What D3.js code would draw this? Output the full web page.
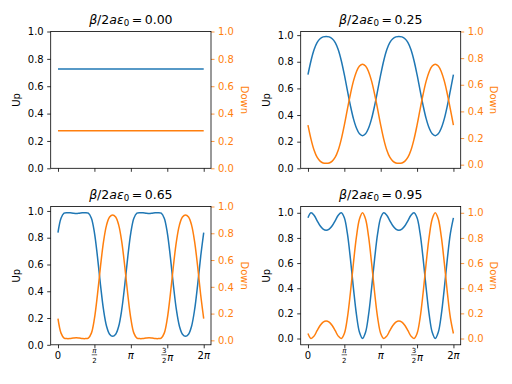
<!DOCTYPE html>
<html>
<head>
<meta charset="utf-8">
<script src="https://cdn.jsdelivr.net/npm/d3@7"></script>
<style>
	body { margin: 0; background: #fff; }
	svg { font-family: "DejaVu Sans", sans-serif; }
	.line { fill: none; stroke-width: 1.5; }
	.frame { fill: none; stroke: #000; stroke-width: 0.8; }
</style>
</head>
<body>
<svg id="chart" width="512" height="384"></svg>
<script>

// parameter shown in each panel title
var ratioLabels = ["0.00", "0.25", "0.65", "0.95"];

// sample grid: 0 .. 2pi in steps of pi/24 (49 points)
var theta = d3.range(0, 49).map(function(k) { return k * Math.PI / 24; });

// values, one per sample
var up000 = [0.725,0.725,0.725,0.725,0.725,0.725,0.725,0.725,0.725,0.725,0.725,0.725,0.725,0.725,0.725,0.725,0.725,0.725,0.725,0.725,0.725,0.725,0.725,0.725,0.725,0.725,0.725,0.725,0.725,0.725,0.725,0.725,0.725,0.725,0.725,0.725,0.725,0.725,0.725,0.725,0.725,0.725,0.725,0.725,0.725,0.725,0.725,0.725,0.725];
var down000 = [0.275,0.275,0.275,0.275,0.275,0.275,0.275,0.275,0.275,0.275,0.275,0.275,0.275,0.275,0.275,0.275,0.275,0.275,0.275,0.275,0.275,0.275,0.275,0.275,0.275,0.275,0.275,0.275,0.275,0.275,0.275,0.275,0.275,0.275,0.275,0.275,0.275,0.275,0.275,0.275,0.275,0.275,0.275,0.275,0.275,0.275,0.275,0.275,0.275];

var up025 = [0.703,0.808,0.890,0.944,0.973,0.987,0.990,0.987,0.973,0.944,0.890,0.808,0.703,0.585,0.471,0.373,0.302,0.259,0.245,0.259,0.302,0.373,0.471,0.585,0.703,0.808,0.890,0.944,0.973,0.987,0.990,0.987,0.973,0.944,0.890,0.808,0.703,0.585,0.471,0.373,0.302,0.259,0.245,0.259,0.302,0.373,0.471,0.585,0.703];
var down025 = [0.297,0.192,0.110,0.056,0.027,0.013,0.010,0.013,0.027,0.056,0.110,0.192,0.297,0.415,0.529,0.627,0.698,0.741,0.755,0.741,0.698,0.627,0.529,0.415,0.297,0.192,0.110,0.056,0.027,0.013,0.010,0.013,0.027,0.056,0.110,0.192,0.297,0.415,0.529,0.627,0.698,0.741,0.755,0.741,0.698,0.627,0.529,0.415,0.297];

var up065 = [0.838,0.946,0.983,0.987,0.986,0.983,0.981,0.983,0.986,0.987,0.983,0.946,0.838,0.659,0.448,0.262,0.139,0.079,0.063,0.079,0.139,0.262,0.448,0.659,0.838,0.946,0.983,0.987,0.986,0.983,0.981,0.983,0.986,0.987,0.983,0.946,0.838,0.659,0.448,0.262,0.139,0.079,0.063,0.079,0.139,0.262,0.448,0.659,0.838];
var down065 = [0.162,0.054,0.017,0.013,0.014,0.017,0.019,0.017,0.014,0.013,0.017,0.054,0.162,0.341,0.552,0.738,0.861,0.921,0.937,0.921,0.861,0.738,0.552,0.341,0.162,0.054,0.017,0.013,0.014,0.017,0.019,0.017,0.014,0.013,0.017,0.054,0.162,0.341,0.552,0.738,0.861,0.921,0.937,0.921,0.861,0.738,0.552,0.341,0.162];

var up095 = [0.960,1.000,0.981,0.938,0.897,0.870,0.861,0.870,0.897,0.938,0.981,1.000,0.960,0.836,0.636,0.401,0.190,0.049,0.000,0.049,0.190,0.401,0.636,0.836,0.960,1.000,0.981,0.938,0.897,0.870,0.861,0.870,0.897,0.938,0.981,1.000,0.960,0.836,0.636,0.401,0.190,0.049,0.000,0.049,0.190,0.401,0.636,0.836,0.960];
var down095 = [0.040,0.000,0.019,0.062,0.103,0.130,0.139,0.130,0.103,0.062,0.019,0.000,0.040,0.164,0.364,0.599,0.810,0.951,1.000,0.951,0.810,0.599,0.364,0.164,0.040,0.000,0.019,0.062,0.103,0.130,0.139,0.130,0.103,0.062,0.019,0.000,0.040,0.164,0.364,0.599,0.810,0.951,1.000,0.951,0.810,0.599,0.364,0.164,0.040];

// ticks
var xTickValues = [0, Math.PI / 2, Math.PI, 3 * Math.PI / 2, 2 * Math.PI];
var xTickLabels = ["0", "\u03C0/2", "\u03C0", "3/2\u03C0", "2\u03C0"];
var yTickValues = [0, 0.2, 0.4, 0.6, 0.8, 1.0];

var upColor = "#1f77b4",
	downColor = "#ff7f0e";

// axes boxes [left, right] and [top, bottom]
var cols = [[50.7, 211], [300.7, 460.7]],
	rows = [[31.5, 168.3], [206.5, 344.8]];

var svg = d3.select("#chart");

// matplotlib-like limits: autoscale with 5% margin, but always include 0..1
function yLimits(vals) {
	var lo = d3.min(vals), hi = d3.max(vals), pad = (hi - lo) * 0.05;
	return [Math.min(0, lo - pad), Math.max(1, hi + pad)];
}

// write a math string, pi in italics like mathtext
function mathText(t, str) {
	str.split("").forEach(function(c) {
		var s = t.append("tspan").text(c);
		if (c == "\u03C0") s.attr("font-style", "italic");
	});
	return t;
}

// x tick label, with stacked fraction for "a/b..."
function drawXLabel(g, xPos, yBase, label) {
	var parts = label.split("/");
	if (parts.length == 1) {
		mathText(g.append("text")
			.attr("x", xPos)
			.attr("y", yBase + 14.2)
			.attr("text-anchor", "middle")
			.attr("font-size", 10), label);
		return;
	}
	var num = parts[0], den = parts[1].charAt(0), rest = parts[1].slice(1);
	var lab = g.append("g");
	var numT = mathText(lab.append("text").attr("y", yBase + 7.8).attr("text-anchor", "middle")
		.attr("font-size", 7), num);
	var denT = mathText(lab.append("text").attr("y", yBase + 17.8).attr("text-anchor", "middle")
		.attr("font-size", 7), den);
	var fw = Math.max(numT.node().getComputedTextLength(), denT.node().getComputedTextLength()) + 1;
	lab.append("line")
		.attr("x1", -fw / 2).attr("x2", fw / 2)
		.attr("y1", yBase + 10).attr("y2", yBase + 10)
		.attr("stroke", "#000").attr("stroke-width", 0.6);
	var rw = 0;
	if (rest.length) {
		var restT = mathText(lab.append("text").attr("x", fw / 2 + 0.3).attr("y", yBase + 16)
			.attr("font-size", 10), rest);
		rw = restT.node().getComputedTextLength() + 0.3;
	}
	var total = fw + rw;
	lab.attr("transform", "translate(" + (xPos - total / 2 + fw / 2) + ",0)");
}

function drawPanel(col, row, ratio, up, down, showXLabels) {

	var x0 = cols[col][0], x1 = cols[col][1],
		y0 = rows[row][0], y1 = rows[row][1];

	var x = d3.scaleLinear()
		.domain([-0.1 * Math.PI, 2.1 * Math.PI])
		.range([x0, x1]);

	var yUp = d3.scaleLinear()
		.domain(yLimits(up))
		.range([y1, y0]);

	var yDown = d3.scaleLinear()
		.domain(yLimits(down))
		.range([y1, y0]);

	var g = svg.append("g");

	// lines
	var upLine = d3.line()
		.curve(d3.curveCatmullRom)
		.x(function(d, i) { return x(theta[i]); })
		.y(function(d) { return yUp(d); });

	var downLine = d3.line()
		.curve(d3.curveCatmullRom)
		.x(function(d, i) { return x(theta[i]); })
		.y(function(d) { return yDown(d); });

	g.append("path")
		.datum(up)
		.attr("class", "line")
		.attr("stroke", upColor)
		.attr("d", upLine);

	g.append("path")
		.datum(down)
		.attr("class", "line")
		.attr("stroke", downColor)
		.attr("d", downLine);

	// left axis
	var left = g.append("g")
		.attr("transform", "translate(" + x0 + ",0)")
		.call(d3.axisLeft(yUp).tickValues(yTickValues).tickSize(3.5).tickPadding(3.5)
			.tickFormat(d3.format(".1f")));
	left.select(".domain").remove();
	left.selectAll("line").attr("stroke", "#000").attr("stroke-width", 0.8);
	left.selectAll("text").attr("font-family", "DejaVu Sans").attr("font-size", 10).attr("fill", "#000");

	// right axis (orange)
	var right = g.append("g")
		.attr("transform", "translate(" + x1 + ",0)")
		.call(d3.axisRight(yDown).tickValues(yTickValues).tickSize(3.5).tickPadding(3.5)
			.tickFormat(d3.format(".1f")));
	right.select(".domain").remove();
	right.selectAll("line").attr("stroke", downColor).attr("stroke-width", 0.8);
	right.selectAll("text").attr("font-family", "DejaVu Sans").attr("font-size", 10).attr("fill", downColor);

	// bottom axis
	var bottom = g.append("g")
		.attr("transform", "translate(0," + y1 + ")")
		.call(d3.axisBottom(x).tickValues(xTickValues).tickSize(3.5).tickFormat(""));
	bottom.select(".domain").remove();
	bottom.selectAll("line").attr("stroke", "#000").attr("stroke-width", 0.8);

	if (showXLabels) {
		xTickValues.forEach(function(v, i) {
			drawXLabel(g, x(v), y1, xTickLabels[i]);
		});
	}

	// frame
	g.append("rect")
		.attr("class", "frame")
		.attr("x", x0).attr("y", y0)
		.attr("width", x1 - x0).attr("height", y1 - y0);

	// axis labels
	g.append("text")
		.attr("transform", "translate(" + (x0 - 31) + "," + ((y0 + y1) / 2) + ") rotate(-90)")
		.attr("text-anchor", "middle")
		.attr("font-size", 10)
		.text("Up");

	g.append("text")
		.attr("transform", "translate(" + (x1 + 29.5) + "," + ((y0 + y1) / 2) + ") rotate(90)")
		.attr("text-anchor", "middle")
		.attr("font-size", 10)
		.attr("fill", downColor)
		.text("Down");

	// title: beta/2a epsilon_0 = value
	var title = g.append("text")
		.attr("x", (x0 + x1) / 2)
		.attr("y", y0 - 8)
		.attr("text-anchor", "middle")
		.attr("font-size", 12.5);
	title.append("tspan").attr("font-style", "italic").text("\u03B2");
	title.append("tspan").text("/2");
	title.append("tspan").attr("font-style", "italic").text("a\u03B5");
	title.append("tspan").attr("font-size", 8.7).attr("dy", 2.5).text("0");
	title.append("tspan").attr("dy", -2.5).text("\u2009=\u2009" + ratio);
}

drawPanel(0, 0, ratioLabels[0], up000, down000, false);
drawPanel(1, 0, ratioLabels[1], up025, down025, false);
drawPanel(0, 1, ratioLabels[2], up065, down065, true);
drawPanel(1, 1, ratioLabels[3], up095, down095, true);

</script>
</body>
</html>
